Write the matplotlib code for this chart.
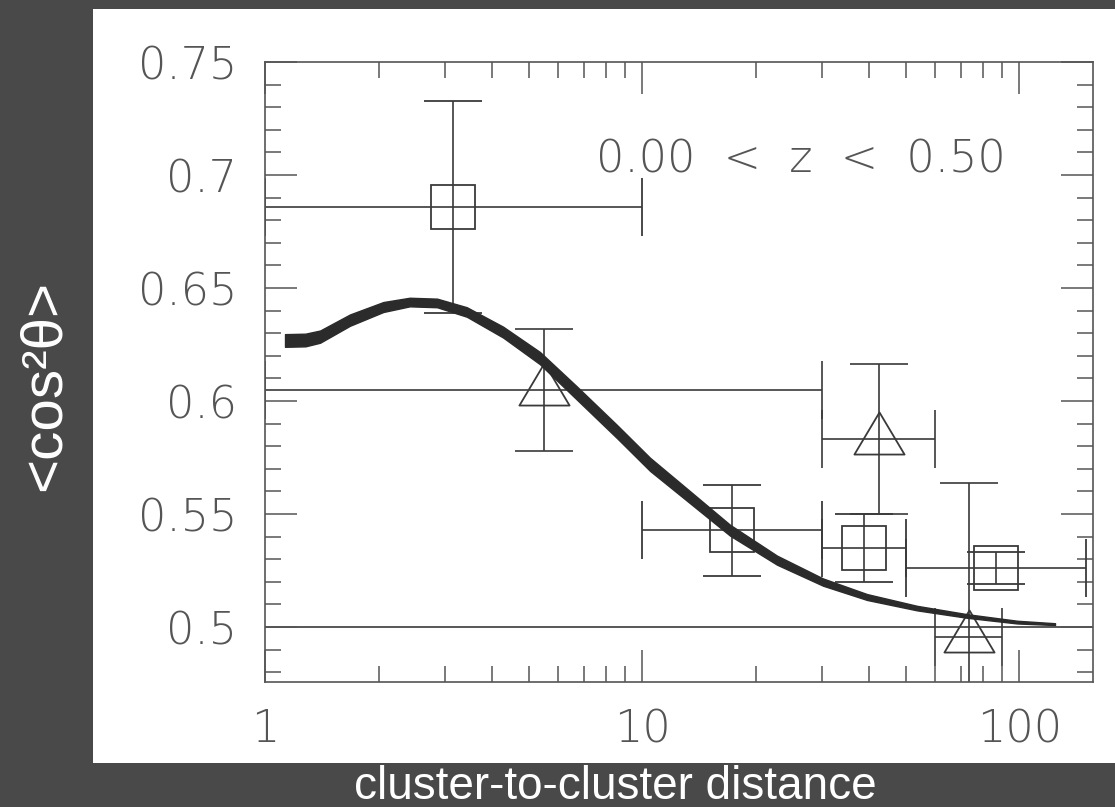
import numpy as np
import matplotlib
matplotlib.use("Agg")
import matplotlib.pyplot as plt
from matplotlib.patches import Rectangle
from matplotlib.path import Path
from matplotlib.ticker import FixedLocator, LogLocator, MultipleLocator, NullFormatter

# binned measurements, squares
sq_x = [3.16, 17.3, 38.7, 86.6]
sq_y = [0.6858, 0.5429, 0.5350, 0.5261]
sq_yerr = [0.0469, 0.0201, 0.0150, 0.0069]
sq_bin_lo = [1.0, 10.0, 30.0, 50.0]
sq_bin_hi = [10.0, 30.0, 50.0, 150.0]

# binned measurements, triangles
tri_x = [5.48, 42.4, 73.5]
tri_y = [0.6049, 0.5832, 0.4956]
tri_yerr = [0.027, 0.0332, 0.068]
tri_bin_lo = [1.0, 30.0, 60.0]
tri_bin_hi = [30.0, 60.0, 90.0]

# model curve with its spread
curve_x = [1.13, 1.28, 1.40, 1.68, 2.06, 2.42, 2.86, 3.43, 4.28, 5.36, 6.72,
           8.58, 10.5, 12.8, 17.1, 22.8, 30.2, 39.5, 53.6, 72.8, 98.8, 124.5]
curve_y = [0.6268, 0.6270, 0.6285, 0.6358, 0.6416, 0.6438, 0.6434, 0.6394, 0.6305,
           0.6190, 0.6035, 0.5865, 0.5720, 0.5602, 0.5429, 0.5296, 0.5199, 0.5133,
           0.5084, 0.5049, 0.5022, 0.5013]
curve_err = [0.0028, 0.0028, 0.0027, 0.0025, 0.0022, 0.0019, 0.0019, 0.0021, 0.0024,
             0.0027, 0.0029, 0.0029, 0.0029, 0.0027, 0.0024, 0.0020, 0.0016, 0.0013,
             0.0010, 0.0008, 0.0006, 0.0004]

random_level = 0.5

x_ticks = [1, 10, 100]
x_ticklabels = ["1", "10", "100"]
y_ticks = [0.5, 0.55, 0.6, 0.65, 0.7, 0.75]
y_ticklabels = ["0.5", "0.55", "0.6", "0.65", "0.7", "0.75"]

ink = "#3a3a3a"
tick_font = dict(family="DejaVu Sans", weight="ultralight", size=32, color="#555555")

fig = plt.figure(figsize=(11.15, 8.07), dpi=100, facecolor="#494949")
fig.add_artist(Rectangle((93 / 1115, 1 - 763 / 807), 1 - 93 / 1115, (763 - 9) / 807,
                         transform=fig.transFigure, facecolor="white", edgecolor="none", zorder=0))

ax = fig.add_axes([265 / 1115, 1 - 682 / 807, 828 / 1115, 620 / 807])
ax.set_xscale("log")
ax.set_xlim(1, 157)
ax.set_ylim(0.4757, 0.75)

ax.axhline(random_level, color=ink, lw=1.2, zorder=1)

# open triangle, data point sits a little below the middle
tri_marker = Path([(-25, -15), (25, -15), (0, 27), (-25, -15)],
                  [Path.MOVETO, Path.LINETO, Path.LINETO, Path.CLOSEPOLY])

sq_xerr = [np.array(sq_x) - np.array(sq_bin_lo), np.array(sq_bin_hi) - np.array(sq_x)]
tri_xerr = [np.array(tri_x) - np.array(tri_bin_lo), np.array(tri_bin_hi) - np.array(tri_x)]

ax.errorbar(sq_x, sq_y, yerr=sq_yerr, xerr=sq_xerr, fmt="s", ms=31, mfc="none", mec=ink,
            mew=1.3, ecolor=ink, elinewidth=1.2, capsize=21, capthick=1.2, zorder=2)
ax.errorbar(tri_x, tri_y, yerr=tri_yerr, xerr=tri_xerr, fmt="none", ecolor=ink,
            elinewidth=1.2, capsize=21, capthick=1.2, zorder=2)
ax.plot(tri_x, tri_y, ls="none", marker=tri_marker, ms=39, mfc="none", mec=ink, mew=1.3, zorder=2)

cy = np.array(curve_y)
ce = np.array(curve_err)
ax.fill_between(curve_x, cy - ce, cy + ce, facecolor="#2b2b2b", edgecolor="#2b2b2b",
                lw=1.0, zorder=3)

ax.text(0.647, 0.842, "0.00  <  z  <  0.50", transform=ax.transAxes, ha="center",
        va="center", **tick_font)

ax.xaxis.set_major_locator(FixedLocator(x_ticks))
ax.set_xticklabels(x_ticklabels)
ax.xaxis.set_minor_locator(LogLocator(base=10, subs=np.arange(2, 10)))
ax.xaxis.set_minor_formatter(NullFormatter())
ax.set_yticks(y_ticks)
ax.set_yticklabels(y_ticklabels)
ax.yaxis.set_minor_locator(MultipleLocator(0.01))

ax.tick_params(which="both", direction="in", top=True, right=True, colors="#555555", width=1.1)
ax.tick_params(which="major", length=23)
ax.tick_params(which="minor", length=11.5)
ax.tick_params(axis="x", which="major", pad=19)
ax.tick_params(axis="y", which="major", pad=20)
for lab in ax.get_xticklabels() + ax.get_yticklabels():
    lab.set_fontfamily(tick_font["family"])
    lab.set_fontweight(tick_font["weight"])
    lab.set_fontsize(tick_font["size"])
for sp in ax.spines.values():
    sp.set_color("#555555")
    sp.set_linewidth(1.2)

fig.text(60 / 1115, 1 - 385 / 807, "<cos²θ>", rotation=90, rotation_mode="anchor",
         ha="center", va="baseline", color="white", fontsize=42, family="Liberation Sans")
fig.text(615 / 1115, 8 / 807, "cluster-to-cluster distance", ha="center", va="baseline",
         color="white", fontsize=33, family="Liberation Sans")

fig.savefig("out.png", dpi=100, facecolor=fig.get_facecolor())
